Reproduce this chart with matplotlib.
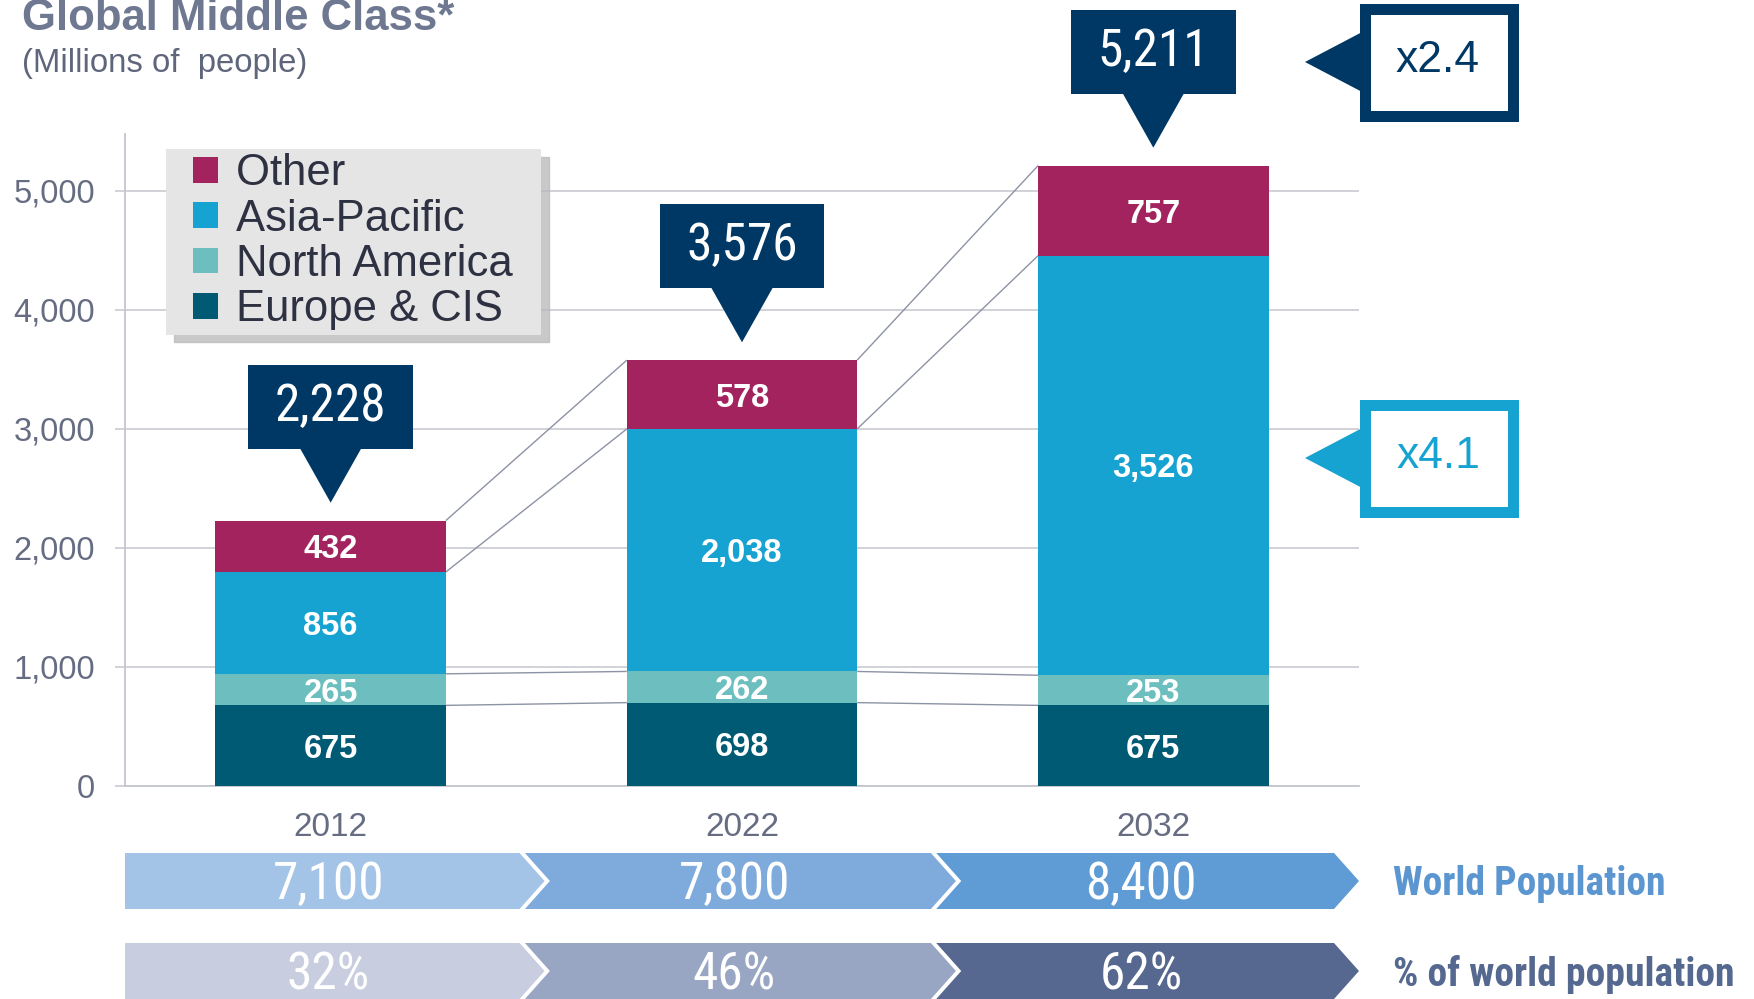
import matplotlib
matplotlib.use('Agg')
import matplotlib.pyplot as plt
from matplotlib.patches import Rectangle, Polygon, Patch
from matplotlib.legend_handler import HandlerPatch
from matplotlib import font_manager as fm

# ---------------- data ----------------
years = ['2012', '2022', '2032']
europe_cis = [675, 698, 675]
north_america = [265, 262, 253]
asia_pacific = [856, 2038, 3526]
other = [432, 578, 757]
world_population = ['7,100', '7,800', '8,400']
share_of_world = ['32%', '46%', '62%']
growth_total = 'x2.4'
growth_asia = 'x4.1'
y_ticks = [0, 1000, 2000, 3000, 4000, 5000]

series_names = ['Europe & CIS', 'North America', 'Asia-Pacific', 'Other']
series_values = [europe_cis, north_america, asia_pacific, other]
series_colors = ['#005a74', '#6cbfbe', '#16a3d1', '#a2235e']

NAVY = '#003865'
CYAN = '#16a3d1'
GRID = '#c3c6ce'
TICKC = '#666d82'

plt.rcParams['font.family'] = ['Liberation Sans', 'DejaVu Sans']
names = {f.name for f in fm.fontManager.ttflist}
narrow = None
for cand in ['Liberation Sans Narrow', 'Roboto Condensed', 'Open Sans Condensed']:
    if cand in names:
        narrow = cand
        break
NARROW_FAM = [narrow, 'Liberation Sans', 'DejaVu Sans'] if narrow else ['Liberation Sans', 'DejaVu Sans']
CALLOUT_FS = 37 if narrow else 31.5
BAND_FS = 37 if narrow else 30.5
BANDLBL_FS = 28.5 if narrow else 23.7

W, H = 1754, 999
fig = plt.figure(figsize=(W / 100, H / 100), dpi=100)
fig.patch.set_facecolor('white')

# ---------------- main axes ----------------
ax = fig.add_axes([125 / W, 1 - 785.7 / H, (1359 - 125) / W, (785.7 - 134) / H])
ax.set_xlim(-0.5, 2.5)
ax.set_ylim(0, 5476)
x = list(range(len(years)))
bw = 0.56

bottoms = [0] * len(years)
cum_levels = []
for name, vals, col in zip(series_names, series_values, series_colors):
    ax.bar(x, vals, width=bw, bottom=bottoms, color=col, label=name, zorder=3)
    for xi, v, b in zip(x, vals, bottoms):
        ax.text(xi, b + v / 2, f'{v:,}', ha='center', va='center_baseline', color='white',
                fontsize=23.5, fontweight='bold', zorder=4)
    bottoms = [b + v for b, v in zip(bottoms, vals)]
    cum_levels.append(list(bottoms))
totals = bottoms

# connector lines between bars
for lev in cum_levels:
    for i in range(len(years) - 1):
        ax.plot([i + bw / 2, i + 1 - bw / 2], [lev[i], lev[i + 1]], color='#8d93a5',
                lw=1.0, zorder=2, solid_capstyle='butt')

# axis styling
ax.set_yticks(y_ticks)
ax.set_yticklabels([f'{v:,}' for v in y_ticks])
ax.set_xticks(x)
ax.set_xticklabels(years)
ax.yaxis.grid(True, color=GRID, lw=1.1, zorder=0)
ax.set_axisbelow(True)
for s in ['top', 'right']:
    ax.spines[s].set_visible(False)
for s in ['left', 'bottom']:
    ax.spines[s].set_color(GRID)
    ax.spines[s].set_linewidth(1.3)
ax.tick_params(axis='y', length=7.2, width=1.1, color=GRID, pad=14.4,
               labelsize=23.5, labelcolor=TICKC)
ax.tick_params(axis='x', length=0, pad=19, labelsize=24, labelcolor=TICKC)

# callouts on bar totals
for i, t in enumerate(totals):
    tip = t + 150
    base = tip + 455
    hgt = 705
    ax.add_patch(Polygon([(i - 0.075, base + 5), (i + 0.075, base + 5), (i, tip)], closed=True,
                         facecolor=NAVY, edgecolor='none', clip_on=False, zorder=5))
    ax.add_patch(Rectangle((i - 0.2, base), 0.4, hgt, facecolor=NAVY, edgecolor='none',
                           clip_on=False, zorder=5))
    ax.text(i, base + hgt / 2, f'{t:,}', ha='center', va='center', color='white',
            fontsize=CALLOUT_FS, family=NARROW_FAM, zorder=6, clip_on=False)

# legend
def square(legend, orig_handle, xdescent, ydescent, width, height, fontsize):
    return Rectangle((-xdescent + width - height, -ydescent), height, height)

handles = [Patch(facecolor=c, label=n + '  ') for n, c in zip(series_names[::-1], series_colors[::-1])]
leg = ax.legend(handles=handles, loc='upper left', bbox_to_anchor=(166 / W, 1 - 149 / H),
                bbox_transform=fig.transFigure, borderaxespad=0, fontsize=31.4,
                frameon=True, fancybox=False, framealpha=1,
                shadow={'ox': 5.5, 'oy': -5.5, 'facecolor': '#b8b8b8', 'edgecolor': '#b8b8b8', 'alpha': 0.75},
                handlelength=1.1, handleheight=0.53, handletextpad=0.4,
                labelspacing=0.1, borderpad=0.1, labelcolor='#2e3142',
                handler_map={Patch: HandlerPatch(patch_func=square)})
leg.get_frame().set_facecolor('#e5e5e5')
leg.get_frame().set_edgecolor('none')
leg.set_zorder(7)

# ---------------- bottom chevron bands ----------------
bx = fig.add_axes([125 / W, 0, (1359 - 125) / W, 146 / H])
bx.set_xlim(-0.5, 2.5)
bx.set_ylim(0, 146)
bx.axis('off')
d = 25 / 411.33
gap = 0.013
rows = [
    (90, 146, world_population, ['#a3c4e6', '#7eabdc', '#5f9bd4'], 'World Population', '#5b96d1'),
    (0, 56, share_of_world, ['#c8cee0', '#98a6c4', '#56688f'], '% of world population', '#55688f'),
]
for y0, y1, labels, cols, rlabel, rcol in rows:
    ym = (y0 + y1) / 2
    prev_br = None
    for i, (lab, col) in enumerate(zip(labels, cols)):
        tip = 2.5 if i == len(labels) - 1 else i + 0.52
        br = tip - d
        if i == 0:
            xs = -0.5
            pts = [(xs, y0), (xs, y1), (br, y1), (tip, ym), (br, y0)]
        else:
            xs = prev_br + gap
            pts = [(xs, y0), (xs + d, ym), (xs, y1), (br, y1), (tip, ym), (br, y0)]
        bx.add_patch(Polygon(pts, closed=True, facecolor=col, edgecolor='none', clip_on=False))
        bx.text((xs + br + d / 2) / 2, ym - 4, lab, ha='center', va='center', color='white',
                fontsize=BAND_FS, family=NARROW_FAM, clip_on=False)
        prev_br = br
    bx.text(2.583, ym - 3, rlabel, ha='left', va='center', color=rcol, fontsize=BANDLBL_FS,
            fontweight='bold', family=NARROW_FAM, clip_on=False)

# ---------------- growth factor boxes (overlay in pixels) ----------------
ov = fig.add_axes([0, 0, 1, 1], zorder=10)
ov.set_xlim(0, W)
ov.set_ylim(H, 0)
ov.axis('off')
ov.patch.set_alpha(0)
for txt, col, cy in [(growth_total, NAVY, 62), (growth_asia, CYAN, 458)]:
    ov.add_patch(Polygon([(1305, cy), (1366, cy - 32), (1366, cy + 32)], closed=True,
                         facecolor=col, edgecolor='none'))
    ov.add_patch(Rectangle((1364.5, cy - 53.5), 148, 107, facecolor='white', edgecolor=col,
                           lw=11 * 0.72, joinstyle='miter'))
    ov.text(1438, cy - 2, txt, ha='center', va='center', color=col, fontsize=32)

# ---------------- titles ----------------
fig.text(22 / W, 1 - 30 / H, 'Global Middle Class*', fontsize=31.5, fontweight='bold',
         color='#6e7891', va='baseline')
fig.text(22 / W, 1 - 72 / H, '(Millions of  people)', fontsize=23.7, color='#5f667c',
         va='baseline')

fig.savefig('out.png', dpi=100)
